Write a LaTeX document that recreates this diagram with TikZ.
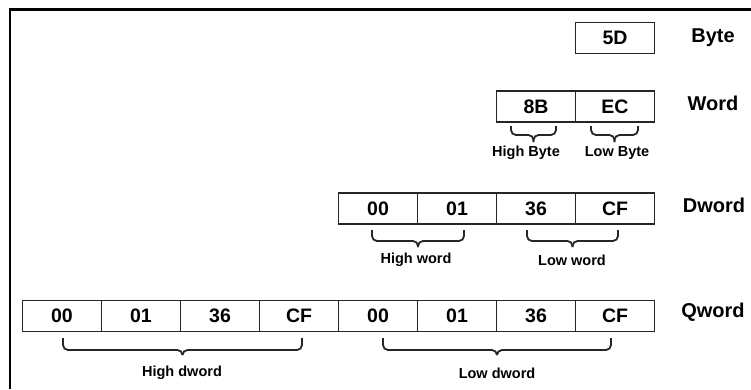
\documentclass[tikz,border=0pt]{standalone}
\usepackage{fontspec}
\setmainfont{Liberation Sans}
\begin{document}
\begin{tikzpicture}[x=1pt,y=-1pt,
  cell/.style={draw=black!85,line width=1.8pt,minimum width=79pt,minimum height=31pt,inner sep=0pt,
    font=\fontsize{19.5}{19.5}\selectfont\bfseries},
  rowlabel/.style={font=\fontsize{20}{20}\selectfont\bfseries,inner sep=0pt},
  bracelabel/.style={font=\fontsize{14.5}{14.5}\selectfont\bfseries,inner sep=0pt},
  bracket/.style={draw=black!85,line width=1.8pt,rounded corners=5pt},
  frame/.style={line width=2.6pt}]
\useasboundingbox (0,0) rectangle (751,389);
\draw[frame] (10,389) -- (10,9.5) -- (751,9.5);
% Byte
\node[cell] (b0) at (615,38) {5D};
\node[rowlabel] (lbyte) at (713,38) {Byte};
% Word
\node[cell] (w0) at (536,106.5) {8B};
\node[cell] (w1) at (615,106.5) {EC};
\node[rowlabel] (lword) at (713,103) {Word};
% Dword
\foreach \i/\t in {0/00,1/01,2/36,3/CF}{
  \node[cell] (d\i) at (378+79*\i,208.5) {\t};
}
\node[rowlabel] (ldword) at (714,205) {Dword};
% Qword
\foreach \i/\t in {0/00,1/01,2/36,3/CF,4/00,5/01,6/36,7/CF}{
  \node[cell] (q\i) at (62+79*\i,316) {\t};
}
\node[rowlabel] (lqword) at (713,312) {Qword};
% braces: \bracebelow{x1}{x2}{ytop}{ymid}{ytip}
\newcommand{\bracebelow}[5]{%
  \draw[bracket] (#1,#3) -- (#1,#4) -- ({(#1+#2)/2},#4) -- ({(#1+#2)/2},#5);
  \draw[bracket] (#2,#3) -- (#2,#4) -- ({(#1+#2)/2},#4) -- ({(#1+#2)/2},#5);
}
\bracebelow{511}{556}{126}{135}{142}
\bracebelow{591}{638}{126}{135}{142}
\node[bracelabel] (hb) at (526,153) {High Byte};
\node[bracelabel] (lb) at (617,153) {Low Byte};
\bracebelow{372}{464}{230}{241}{247}
\bracebelow{527}{618}{230}{241}{247}
\node[bracelabel] (hw) at (416,260) {High word};
\node[bracelabel] (lw) at (572,260) {Low word};
\bracebelow{63}{302}{338}{350}{355}
\bracebelow{383}{611}{338}{350}{355}
\node[bracelabel] (hd) at (182,373) {High dword};
\node[bracelabel] (ld) at (497,373) {Low dword};
\end{tikzpicture}
\end{document}
